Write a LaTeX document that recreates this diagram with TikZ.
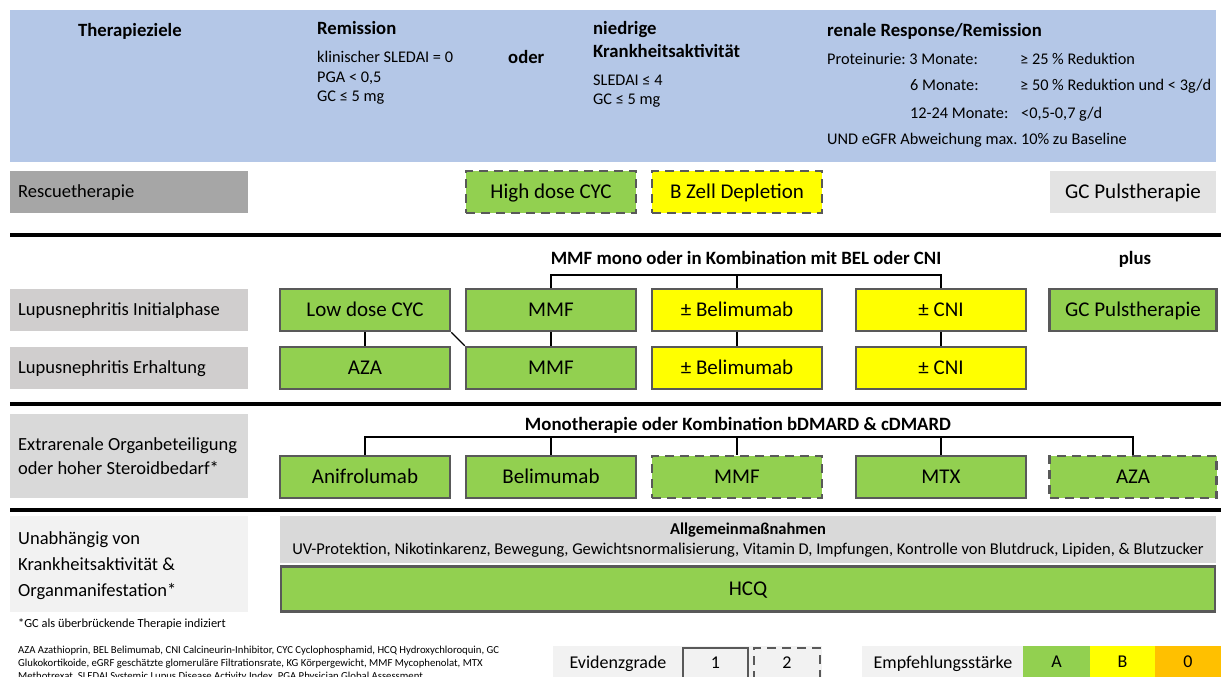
\documentclass[tikz,border=0pt]{standalone}
\usepackage{fontspec}
\setmainfont{Carlito}
\frenchspacing
\definecolor{hblue}{HTML}{B4C7E7}
\definecolor{lgreen}{HTML}{92D050}
\definecolor{lyellow}{HTML}{FFFF00}
\definecolor{lorange}{HTML}{FFC000}
\definecolor{bgray}{HTML}{595959}
\definecolor{gA}{HTML}{A6A6A6}
\definecolor{gB}{HTML}{D0CECE}
\definecolor{gC}{HTML}{D9D9D9}
\definecolor{gD}{HTML}{F2F2F2}
\definecolor{gE}{HTML}{E3E3E3}
\tikzset{
  tbox/.style={draw=bgray, line width=2.5pt, minimum height=42pt, inner sep=0pt, text height=13.5pt, text depth=0pt, font=\fontsize{21}{25}\selectfont},
  gbox/.style={tbox, fill=lgreen},
  ybox/.style={tbox, fill=lyellow},
  dbox/.style={dash pattern=on 9pt off 6pt},
  labbg/.style={minimum width=238pt, inner sep=0pt},
  labt/.style={anchor=west, inner sep=0pt, align=left, font=\fontsize{18.5}{24}\selectfont},
  ht/.style={anchor=west, inner sep=0pt, yshift=-2pt, text height=11.5pt, text depth=3.5pt, font=\fontsize{16.3}{19}\selectfont},
  hb/.style={anchor=west, inner sep=0pt, yshift=-2pt, text height=13pt, text depth=4pt, font=\fontsize{18.7}{22}\selectfont\bfseries},
  sect/.style={inner sep=0pt, yshift=-2pt, text height=13pt, text depth=4pt, font=\fontsize{18.8}{22}\selectfont\bfseries},
  conn/.style={line width=1.3pt, black},
  sep/.style={line width=3.5pt, black},
  leg/.style={inner sep=0pt, text height=11.6pt, text depth=0pt, font=\fontsize{18}{22}\selectfont},
}
\begin{document}
\begin{tikzpicture}[x=1pt, y=-1pt]
\useasboundingbox (0,0) rectangle (1221,677);
\fill[white] (0,0) rectangle (1221,677);
% header
\fill[hblue] (10,10) rectangle (1216,162);
\node[hb] (tz) at (78,30) {Therapieziele};
\node[hb] (rem) at (317,28) {Remission};
\node[ht] (r1) at (317,57) {klinischer SLEDAI = 0};
\node[ht] (r2) at (317,76) {PGA < 0,5};
\node[ht] (r3) at (317,96) {GC ≤ 5 mg};
\node[hb] (oder) at (508,57) {oder};
\node[hb] (nk1) at (593,28) {niedrige};
\node[hb] (nk2) at (593,51) {Krankheitsaktivität};
\node[ht] (n1) at (593,79) {SLEDAI ≤ 4};
\node[ht] (n2) at (593,98) {GC ≤ 5 mg};
\node[hb] (rr) at (827,30) {renale Response/Remission};
\node[ht] (p1) at (827,58) {Proteinurie: 3 Monate:};
\node[ht] (p1b) at (1020,58) {≥ 25 \% Reduktion};
\node[ht] (p2) at (910,85) {6 Monate:};
\node[ht] (p2b) at (1020,85) {≥ 50 \% Reduktion und < 3g/d};
\node[ht] (p3) at (910,112) {12-24 Monate:};
\node[ht] (p3b) at (1021,112) {<0,5-0,7 g/d};
\node[ht] (p4) at (827,138) {UND eGFR Abweichung max. 10\% zu Baseline};
% rescue row
\node[labbg, fill=gA, minimum height=42pt] (lres) at (129,192) {};
\node[labt] (lrest) at (18,193) {Rescuetherapie};
\node[gbox, dbox, minimum width=170pt] (hcyc) at (551,192) {High dose CYC};
\node[ybox, dbox, minimum width=170pt] (bzell) at (737,192) {B Zell Depletion};
\node[fill=gE, minimum width=166pt, minimum height=42pt, inner sep=0pt, text height=13.5pt, text depth=0pt, font=\fontsize{21}{25}\selectfont] (gcp0) at (1133,192) {GC Pulstherapie};
\draw[sep] (10,235) -- (1221,235);
% lupus nephritis
\node[sect] (mmft) at (746,258) {MMF mono oder in Kombination mit BEL oder CNI};
\node[sect] (plus) at (1135,258) {plus};
\node[labbg, fill=gB, minimum height=42pt] (lini) at (129,310) {};
\node[labt] (linit) at (18,311) {Lupusnephritis Initialphase};
\node[labbg, fill=gB, minimum height=42pt] (lerh) at (129,368) {};
\node[labt] (lerht) at (18,369) {Lupusnephritis Erhaltung};
\coordinate (bus1) at (551,275);
\node[gbox, minimum width=170pt] (lcyc) at (365,310) {Low dose CYC};
\node[gbox, minimum width=170pt] (mmf1) at (551,310) {MMF};
\node[ybox, minimum width=170pt] (bel1) at (737,310) {± Belimumab};
\node[ybox, minimum width=170pt] (cni1) at (941,310) {± CNI};
\node[gbox, minimum width=167pt] (gcp1) at (1133,310) {GC Pulstherapie};
\node[gbox, minimum width=170pt] (aza1) at (365,368) {AZA};
\node[gbox, minimum width=170pt] (mmf2) at (551,368) {MMF};
\node[ybox, minimum width=170pt] (bel2) at (737,368) {± Belimumab};
\node[ybox, minimum width=170pt] (cni2) at (941,368) {± CNI};
\draw[conn] (mmf1.north) -- (bus1) -| (cni1.north);
\draw[conn] (bus1 -| bel1.north) -- (bel1.north);
\draw[conn] (lcyc.south) -- (aza1.north);
\draw[conn] (lcyc.south east) -- (mmf2.north west);
\draw[conn] (mmf1.south) -- (mmf2.north);
\draw[conn] (bel1.south) -- (bel2.north);
\draw[conn] (cni1.south) -- (cni2.north);
\draw[sep] (10,404) -- (1221,404);
% extrarenal
\node[labbg, fill=gC, minimum height=84pt] (lext) at (129,456) {};
\node[labt] (lextt) at (18,456) {Extrarenale Organbeteiligung\\oder hoher Steroidbedarf*};
\node[sect] (monot) at (738,424) {Monotherapie oder Kombination bDMARD \& cDMARD};
\coordinate (bus2) at (365,437);
\node[gbox, minimum width=170pt] (anif) at (365,477) {Anifrolumab};
\node[gbox, minimum width=170pt] (belx) at (551,477) {Belimumab};
\node[gbox, dbox, minimum width=170pt] (mmfx) at (737,477) {MMF};
\node[gbox, minimum width=170pt] (mtx) at (941,477) {MTX};
\node[gbox, dbox, minimum width=167pt] (azax) at (1133,477) {AZA};
\draw[conn] (anif.north) -- (bus2) -| (azax.north);
\draw[conn] (bus2 -| belx.north) -- (belx.north);
\draw[conn] (bus2 -| mmfx.north) -- (mmfx.north);
\draw[conn] (bus2 -| mtx.north) -- (mtx.north);
\draw[sep] (10,510) -- (1221,510);
% general
\node[labbg, fill=gD, minimum height=96pt] (lunab) at (129,564) {};
\node[labt, font=\fontsize{18.5}{26}\selectfont] (lunabt) at (18,566) {Unabhängig von\\Krankheitsaktivität \&\\Organmanifestation*};
\node[fill=gC, minimum width=936pt, minimum height=47pt, inner sep=0pt] (allg) at (748,539.5) {};
\node[font=\fontsize{16.5}{19}\selectfont\bfseries, inner sep=0pt] (allgt) at (748,530) {Allgemeinmaßnahmen};
\node[font=\fontsize{16.5}{19}\selectfont, inner sep=0pt] (allgl) at (748,550) {UV-Protektion, Nikotinkarenz, Bewegung, Gewichtsnormalisierung, Vitamin D, Impfungen, Kontrolle von Blutdruck, Lipiden, \& Blutzucker};
\node[gbox, minimum width=934pt, minimum height=45pt] (hcq) at (748,589) {HCQ};
\node[anchor=west, inner sep=0pt, font=\fontsize{12.4}{14}\selectfont] (fn) at (18,624) {*GC als überbrückende Therapie indiziert};
\node[anchor=north west, inner sep=0pt, align=left, font=\fontsize{10.7}{13}\selectfont] (abbr) at (18,646) {AZA Azathioprin, BEL Belimumab, CNI Calcineurin-Inhibitor, CYC Cyclophosphamid, HCQ Hydroxychloroquin, GC\\Glukokortikoide, eGRF geschätzte glomeruläre Filtrationsrate, KG Körpergewicht, MMF Mycophenolat, MTX\\Methotrexat, SLEDAI Systemic Lupus Disease Activity Index, PGA Physician Global Assessment};
% legend
\fill[gD] (553,646) rectangle (822,677);
\node[leg] (evg) at (618,663) {Evidenzgrade};
\node[draw=bgray, line width=2.5pt, minimum width=65pt, minimum height=40pt, inner sep=0pt] (ev1) at (715.5,668) {};
\node[draw=bgray, line width=2.5pt, dbox, minimum width=66pt, minimum height=40pt, inner sep=0pt] (ev2) at (787,668) {};
\node[leg] (ev1t) at (715.5,663) {1};
\node[leg] (ev2t) at (787,663) {2};
\fill[gD] (862,646) rectangle (1023,677);
\node[leg] (emp) at (943,663) {Empfehlungsstärke};
\node[leg, fill=lgreen, minimum width=67pt, minimum height=31pt] (ea) at (1056.5,661.5) {A};
\node[leg, fill=lyellow, minimum width=65pt, minimum height=31pt] (eb) at (1122.5,661.5) {B};
\node[leg, fill=lorange, minimum width=66pt, minimum height=31pt] (e0) at (1188,661.5) {0};
\end{tikzpicture}
\end{document}
